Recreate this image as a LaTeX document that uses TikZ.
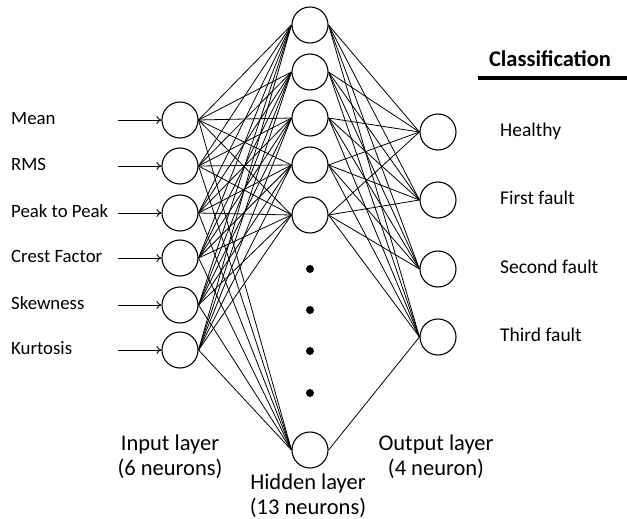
\documentclass[tikz,border=0pt]{standalone}
\usepackage{fontspec}
\setmainfont{Carlito}
\usetikzlibrary{arrows.meta}
\begin{document}
\begin{tikzpicture}[x=1bp,y=-1bp,
  neuron/.style={circle,draw,line width=1.1bp,minimum size=36bp,inner sep=0},
  dotnode/.style={circle,fill,minimum size=8bp,inner sep=0},
  link/.style={line width=0.8bp},
  inlabel/.style={anchor=mid west,inner sep=0,yshift=-2bp,font=\fontsize{18.8bp}{22bp}\selectfont},
  outlabel/.style={anchor=mid west,inner sep=0,yshift=-2.5bp,font=\fontsize{19.5bp}{23bp}\selectfont},
  layerlabel/.style={align=center,inner sep=0,font=\fontsize{22.5bp}{25bp}\selectfont},
  feed/.style={line width=0.9bp,-{To[length=5bp,width=8bp]}}]
\useasboundingbox (0,0) rectangle (627,519);
% input layer
\foreach \y/\t [count=\i] in {120/Mean,166/RMS,213/Peak to Peak,258/Crest Factor,305/Skewness,350/Kurtosis}{
  \node[neuron] (i\i) at (180,\y) {};
  \node[inlabel] (l\i) at (11,\y) {\t};
  \coordinate (a\i) at (118,\y);
  \draw[feed] (a\i) -- (i\i.west);
}
% hidden layer
\foreach \y [count=\i] in {25,72,118,165,215}{
  \node[neuron] (h\i) at (310,\y) {};
}
\node[neuron] (h13) at (310,450) {};
\foreach \y [count=\i] in {269,310,351,393}{
  \node[dotnode] (d\i) at (310,\y) {};
}
% output layer
\foreach \y/\t [count=\i] in {132/Healthy,200/First fault,269/Second fault,337/Third fault}{
  \node[neuron] (o\i) at (438,\y) {};
  \node[outlabel] (r\i) at (500,\y) {\t};
}
% connections
\foreach \i in {1,2,3,4,5,6}{
  \foreach \j in {1,2,3,4,5,13}{
    \draw[link] (i\i.east) -- (h\j.west);
  }
}
\foreach \j in {1,2,3,4,5}{
  \foreach \k in {1,2,3,4}{
    \draw[link] (h\j.east) -- (o\k.west);
  }
}
\draw[link] (h13.east) -- (o4.west);
% classification header
\node[font=\bfseries\fontsize{22.5bp}{26bp}\selectfont] (cls) at (550,59) {Classification};
\coordinate (u1) at (478,78);
\coordinate (u2) at (627,78);
\draw[line width=3.5bp] (u1) -- (u2);
% layer captions
\node[layerlabel] (inlay) at (170,456.5) {Input layer\\(6 neurons)};
\node[layerlabel] (hidlay) at (308,495.5) {Hidden layer\\(13 neurons)};
\node[layerlabel] (outlay) at (436,456.5) {Output layer\\(4 neuron)};
\end{tikzpicture}
\end{document}
